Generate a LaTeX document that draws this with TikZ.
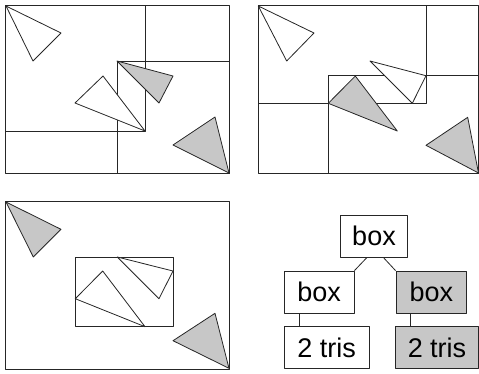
\documentclass[tikz,border=0pt]{standalone}
\usepackage{fontspec}
\setmainfont{Liberation Sans}
\begin{document}
\begin{tikzpicture}[x=1pt,y=-1pt,line join=round,
  ln/.style={draw=black!85,line width=0.8pt},
  tri/.style={ln,fill=white},
  gtri/.style={ln,fill=black!22},
  tbox/.style={ln,fill=white,font=\fontsize{27}{27}\selectfont,inner sep=0pt,minimum height=42pt},
  gbox/.style={tbox,fill=black!22}]
\useasboundingbox (0,0) rectangle (479,373);
% panel 1
\draw[ln] (5,5) rectangle (229,173);
\draw[ln] (5,5) rectangle (145,131);
\draw[ln] (117,61) rectangle (229,173);
\draw[tri] (6,6) -- (61,33) -- (33,61) -- cycle;
\draw[tri] (103,76) -- (75,103) -- (145,131) -- cycle;
\draw[gtri] (117,61) -- (173,76) -- (159,103) -- cycle;
\draw[gtri] (215,117) -- (173,145) -- (229,173) -- cycle;
% panel 2
\draw[ln] (258.3,5) rectangle (478.5,173);
\draw[ln] (258.3,5) rectangle (426,103.3);
\draw[ln] (328.3,75.7) rectangle (478.5,173);
\draw[tri] (258.3,6) -- (314,33) -- (286.7,61) -- cycle;
\draw[tri] (370,61) -- (426,75.7) -- (412.3,103.3) -- cycle;
\draw[gtri] (355.3,76) -- (328.3,103.3) -- (397.3,131) -- cycle;
\draw[gtri] (467.7,117.3) -- (426,145.3) -- (478.5,173) -- cycle;
% panel 3
\draw[ln] (5,201) rectangle (229,369);
\draw[ln] (75.3,257) rectangle (173,326.7);
\draw[gtri] (6,202) -- (61,229.3) -- (33.3,257) -- cycle;
\draw[tri] (102.7,271) -- (75.3,298.7) -- (145,326.7) -- cycle;
\draw[tri] (117.3,257) -- (173,271) -- (159,298.7) -- cycle;
\draw[gtri] (215,313.3) -- (173,340.7) -- (229,368.3) -- cycle;
% panel 4: tree
\node[tbox,minimum width=66.6pt] (top) at (374,236) {box};
\node[tbox,minimum width=69.7pt] (l) at (319.2,292) {box};
\node[gbox,minimum width=70.7pt] (r) at (431.3,292) {box};
\node[tbox,minimum width=84.7pt] (lt) at (326.7,347.8) {2 tris};
\node[gbox,minimum width=82.5pt] (rt) at (437,347.8) {2 tris};
\draw[ln] ([xshift=-7pt]top.south) -- (l.north east);
\draw[ln] ([xshift=9.3pt]top.south) -- (r.north west);
\draw[ln] ([xshift=-20.2pt]l.south) -- ([xshift=-20.2pt]l.south |- lt.north);
\draw[ln] ([xshift=-21.3pt]r.south) -- ([xshift=-21.3pt]r.south |- rt.north);
\end{tikzpicture}
\end{document}
